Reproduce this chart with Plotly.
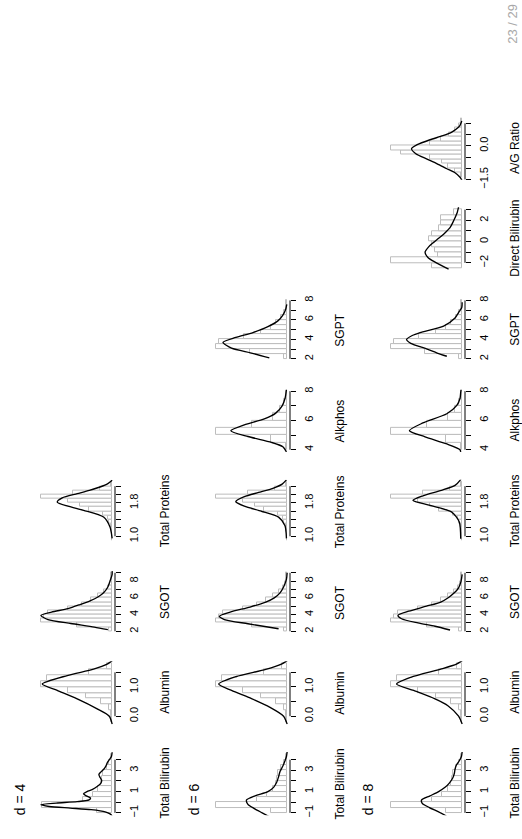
import plotly.graph_objects as go

FONT = "Liberation Sans"

variables = ["Total Bilirubin", "Albumin", "SGOT", "Total Proteins",
             "Alkphos", "SGPT", "Direct Bilirubin", "A/G Ratio"]
dims = [4, 6, 8]
page_label = "23 / 29"

# axis ticks and their printed labels (R drops overlapping labels)
ticks_tb = [-1, 0, 1, 2, 3, 4]
labels_tb = ["\u22121", "", "1", "", "3", ""]
ticks_alb = [0.0, 0.5, 1.0, 1.5]
labels_alb = ["0.0", "", "1.0", ""]
ticks_sgot = [2, 3, 4, 5, 6, 7, 8, 9]
labels_sgot = ["2", "", "4", "", "6", "", "8", ""]
ticks_tp = [1.0, 1.2, 1.4, 1.6, 1.8, 2.0, 2.2]
labels_tp = ["1.0", "", "", "", "1.8", "", ""]
ticks_alk = [4, 5, 6, 7, 8]
labels_alk = ["4", "", "6", "", "8"]
ticks_sgpt = [2, 3, 4, 5, 6, 7, 8]
labels_sgpt = ["2", "", "4", "", "6", "", "8"]
ticks_db = [-2, -1, 0, 1, 2, 3]
labels_db = ["\u22122", "", "0", "", "2", ""]
ticks_ag = [-1.5, -1.0, -0.5, 0.0, 0.5, 1.0]
labels_ag = ["\u22121.5", "", "", "0.0", "", ""]

# histograms: first break, bin width, densities (relative to tallest bar)
hist_start = [-1.0, -0.2, 2.0, 0.9, 4.0, 2.0, -2.5, -1.4]
hist_width = [0.5, 0.2, 0.5, 0.1, 0.5, 0.5, 0.5, 0.2]
hist_tb = [0.22, 1.0, 0.42, 0.28, 0.2, 0.16, 0.14, 0.13, 0.08, 0.04, 0.02]
hist_alb = [0.01, 0.02, 0.05, 0.16, 0.36, 0.62, 1.0, 0.92, 0.32, 0.07]
hist_sgot = [0.04, 0.5, 1.0, 0.95, 0.9, 0.62, 0.42, 0.3, 0.2, 0.12, 0.06, 0.03, 0.02, 0.01]
hist_tp = [0.003, 0.005, 0.01, 0.02, 0.05, 0.06, 0.13, 0.33, 0.45, 0.62, 1.0, 0.55, 0.17, 0.02]
hist_alk = [0.02, 0.22, 1.0, 0.5, 0.2, 0.1, 0.04, 0.015]
hist_sgpt = [0.05, 0.52, 1.0, 0.95, 0.6, 0.36, 0.22, 0.15, 0.08, 0.04, 0.02, 0.01]
hist_db = [0.42, 1.0, 0.34, 0.38, 0.42, 0.47, 0.42, 0.33, 0.3, 0.3, 0.12]
hist_ag = [0.02, 0.1, 0.2, 0.28, 0.45, 0.86, 1.0, 0.45, 0.3, 0.19, 0.1, 0.04, 0.01]

# fitted densities (value, height)
curve_tb_d4 = [(-1.3, 0.0), (-1.1, 0.03), (-0.9, 0.1), (-0.7, 0.3), (-0.55, 0.6), (-0.4, 0.9),
               (-0.22, 1.02), (-0.08, 0.8), (0.05, 0.5), (0.22, 0.33), (0.4, 0.31), (0.6, 0.37),
               (0.8, 0.41), (1.0, 0.36), (1.2, 0.28), (1.5, 0.21), (1.8, 0.16), (2.05, 0.15),
               (2.3, 0.17), (2.6, 0.19), (2.85, 0.16), (3.1, 0.12), (3.4, 0.09), (3.7, 0.07),
               (4.0, 0.04), (4.3, 0.01), (4.7, 0.0)]
curve_tb_d6 = [(-1.4, 0.24), (-1.0, 0.35), (-0.6, 0.46), (-0.2, 0.55), (0.2, 0.57), (0.6, 0.45),
               (1.0, 0.27), (1.4, 0.19), (1.9, 0.145), (2.4, 0.12), (2.9, 0.10), (3.4, 0.06),
               (3.9, 0.03), (4.3, 0.01), (4.75, 0.0)]
curve_tb_d8 = [(-1.3, 0.22), (-0.9, 0.33), (-0.5, 0.46), (-0.1, 0.56), (0.2, 0.57), (0.6, 0.45),
               (1.0, 0.33), (1.4, 0.24), (1.8, 0.18), (2.3, 0.13), (2.7, 0.11), (3.1, 0.10),
               (3.5, 0.08), (3.9, 0.04), (4.3, 0.01), (4.75, 0.0)]
curve_alb_d4 = [(-0.27, 0.0), (0.0, 0.04), (0.25, 0.21), (0.59, 0.49), (0.88, 0.77), (1.1, 0.98),
                (1.39, 0.63), (1.61, 0.26), (1.78, 0.07), (1.9, 0.0)]
curve_alb_d6 = [(-0.27, 0.0), (0.0, 0.05), (0.3, 0.24), (0.6, 0.5), (0.88, 0.78), (1.1, 0.96),
                (1.35, 0.72), (1.6, 0.3), (1.78, 0.08), (1.9, 0.0)]
curve_alb_d8 = [(-0.27, 0.0), (0.0, 0.05), (0.36, 0.2), (0.59, 0.38), (0.88, 0.68), (1.1, 0.92),
                (1.33, 0.72), (1.61, 0.3), (1.78, 0.08), (1.9, 0.0)]
curve_sgot_d4 = [(2.2, 0.06), (2.5, 0.25), (2.93, 0.58), (3.4, 0.9), (3.9, 1.0), (4.3, 0.85),
                 (4.7, 0.62), (5.2, 0.45), (5.65, 0.31), (6.1, 0.2), (6.6, 0.12), (7.3, 0.06),
                 (8.0, 0.03), (8.8, 0.0), (9.2, 0.0)]
curve_sgot_d6 = [(2.3, 0.12), (2.9, 0.55), (3.4, 0.88), (3.8, 0.95), (4.3, 0.8), (4.9, 0.52),
                 (5.5, 0.3), (6.0, 0.18), (6.6, 0.1), (7.3, 0.05), (8.2, 0.01), (9.0, 0.0)]
curve_sgot_d8 = [(2.15, 0.17), (2.6, 0.38), (3.0, 0.62), (3.5, 0.85), (3.9, 0.9), (4.4, 0.75),
                 (5.0, 0.5), (5.5, 0.3), (6.05, 0.19), (6.6, 0.11), (7.2, 0.05), (8.0, 0.015),
                 (8.8, 0.0)]
curve_tp_d4 = [(0.95, 0.0), (1.22, 0.03), (1.46, 0.12), (1.62, 0.4), (1.72, 0.62), (1.82, 0.77),
               (1.92, 0.7), (2.02, 0.49), (2.1, 0.32), (2.18, 0.17), (2.26, 0.06), (2.34, 0.0)]
curve_tp_d6 = [(0.95, 0.01), (1.25, 0.03), (1.46, 0.12), (1.6, 0.36), (1.72, 0.6), (1.83, 0.72),
               (1.95, 0.6), (2.05, 0.4), (2.15, 0.2), (2.25, 0.07), (2.35, 0.01)]
curve_tp_d8 = [(0.94, 0.02), (1.34, 0.04), (1.58, 0.145), (1.74, 0.45), (1.86, 0.69), (1.97, 0.55),
               (2.1, 0.29), (2.22, 0.1), (2.34, 0.03), (2.4, 0.01)]
curve_alk_d6 = [(3.85, 0.01), (4.2, 0.06), (4.5, 0.22), (4.9, 0.55), (5.3, 0.79), (5.7, 0.6),
                (6.1, 0.32), (6.5, 0.16), (7.0, 0.07), (7.5, 0.03), (8.1, 0.01)]
curve_alk_d8 = [(3.85, 0.02), (4.0, 0.03), (4.39, 0.215), (4.88, 0.52), (5.3, 0.74), (5.83, 0.55),
                (6.46, 0.215), (7.03, 0.075), (7.5, 0.03), (7.93, 0.02), (8.1, 0.015)]
curve_sgpt_d6 = [(2.1, 0.25), (2.6, 0.5), (3.1, 0.78), (3.7, 0.9), (4.2, 0.72), (4.7, 0.48),
                 (5.3, 0.27), (5.9, 0.13), (6.5, 0.06), (7.1, 0.02), (7.6, 0.005)]
curve_sgpt_d8 = [(2.27, 0.215), (2.6, 0.35), (3.03, 0.5), (3.6, 0.72), (4.0, 0.78), (4.4, 0.7),
                 (4.7, 0.59), (5.37, 0.26), (6.2, 0.1), (6.87, 0.04), (7.27, 0.005), (7.8, 0.0)]
curve_db_d8 = [(-2.6, 0.19), (-1.94, 0.38), (-1.5, 0.48), (-1.0, 0.52), (-0.5, 0.47), (-0.08, 0.40),
               (0.3, 0.33), (0.69, 0.26), (1.3, 0.17), (1.8, 0.13), (2.23, 0.1), (2.7, 0.07),
               (3.25, 0.05)]
curve_ag_d8 = [(-1.55, 0.0), (-1.4, 0.03), (-1.2, 0.1), (-1.02, 0.215), (-0.8, 0.35), (-0.58, 0.5),
               (-0.35, 0.65), (-0.13, 0.71), (0.05, 0.63), (0.27, 0.45), (0.45, 0.27), (0.61, 0.145),
               (0.8, 0.06), (0.91, 0.03), (1.1, 0.005)]

# ---- assemble tables ----
ticks = [ticks_tb, ticks_alb, ticks_sgot, ticks_tp, ticks_alk, ticks_sgpt, ticks_db, ticks_ag]
tick_labels = [labels_tb, labels_alb, labels_sgot, labels_tp, labels_alk, labels_sgpt, labels_db, labels_ag]
hists = [hist_tb, hist_alb, hist_sgot, hist_tp, hist_alk, hist_sgpt, hist_db, hist_ag]
curves = {
    4: [curve_tb_d4, curve_alb_d4, curve_sgot_d4, curve_tp_d4],
    6: [curve_tb_d6, curve_alb_d6, curve_sgot_d6, curve_tp_d6, curve_alk_d6, curve_sgpt_d6],
    8: [curve_tb_d8, curve_alb_d8, curve_sgot_d8, curve_tp_d8, curve_alk_d8, curve_sgpt_d8,
        curve_db_d8, curve_ag_d8],
}

# ---- layout geometry (page is rotated: rows of the slide run left->right) ----
FW, FH = 522, 839
AXIS_X0, COL_STEP, PLOT_W = 115, 175, 77
ROW_C0, ROW_STEP, PANEL_H = 792, 92, 64
TITLE_X0, TITLE_STEP, TITLE_BOTTOM = 20, 174, 825
LABEL_OFF = 50

fig = go.Figure()
layout_axes = {}
annotations = []
shapes = []
n = 0
for k, d in enumerate(dims):
    axis_px = AXIS_X0 + COL_STEP * k
    left_px = axis_px - PLOT_W
    annotations.append(dict(
        text=f"d = {d}", x=(TITLE_X0 + TITLE_STEP * k) / FW, y=(FH - TITLE_BOTTOM) / FH,
        xref="paper", yref="paper", xanchor="center", yanchor="bottom", showarrow=False,
        textangle=-90, borderpad=0, font=dict(family=FONT, size=14, color="black")))
    for i in range(d):
        n += 1
        sfx = "" if n == 1 else str(n)
        start, width, dens = hist_start[i], hist_width[i], hists[i]
        b_lo, b_hi = start, start + width * len(dens)
        pad = 0.04 * (b_hi - b_lo)
        yr = [b_lo - pad, b_hi + pad]
        cv = [p[0] for p in curves[d][i]]
        ch = [p[1] for p in curves[d][i]]
        top = max(max(dens), max(ch))
        xr = [1.04 * top, -0.04 * top]
        centers = [start + width * (j + 0.5) for j in range(len(dens))]

        fig.add_trace(go.Bar(
            x=dens, y=centers, width=[width] * len(dens), orientation="h",
            marker=dict(color="white", line=dict(color="#bdbdbd", width=1)),
            xaxis="x" + sfx, yaxis="y" + sfx, showlegend=False, hoverinfo="skip"))
        fig.add_trace(go.Scatter(
            x=ch, y=cv, mode="lines", line=dict(color="black", width=1.35, shape="spline", smoothing=0.7),
            xaxis="x" + sfx, yaxis="y" + sfx, showlegend=False, hoverinfo="skip"))

        c_px = ROW_C0 - ROW_STEP * i
        layout_axes["xaxis" + sfx] = dict(
            domain=[left_px / FW, axis_px / FW], range=xr, anchor="y" + sfx,
            visible=False, showgrid=False, zeroline=False, fixedrange=True)
        layout_axes["yaxis" + sfx] = dict(
            domain=[(FH - (c_px + PANEL_H / 2)) / FH, (FH - (c_px - PANEL_H / 2)) / FH],
            range=yr, anchor="x" + sfx, side="right",
            tickmode="array", tickvals=ticks[i], ticktext=tick_labels[i], tickangle=-90,
            ticks="outside", ticklen=5, tickwidth=1, tickcolor="black",
            ticklabelstandoff=4,
            tickfont=dict(family=FONT, size=11, color="black"),
            showgrid=False, zeroline=False, showline=False, fixedrange=True)
        shapes.append(dict(
            type="line", xref=("x" + sfx + " domain"), yref="y" + sfx,
            x0=1, x1=1, y0=ticks[i][0], y1=ticks[i][-1],
            line=dict(color="black", width=1)))
        annotations.append(dict(
            text=variables[i], x=(axis_px + LABEL_OFF) / FW, y=(FH - c_px) / FH,
            xref="paper", yref="paper", xanchor="center", yanchor="middle", showarrow=False,
            textangle=-90, borderpad=0, font=dict(family=FONT, size=12, color="black")))

annotations.append(dict(
    text=page_label, x=513 / FW, y=(FH - 22) / FH, xref="paper", yref="paper",
    xanchor="center", yanchor="middle", showarrow=False, textangle=-90, borderpad=0,
    font=dict(family=FONT, size=13, color="#a8a8a8")))

fig.update_layout(
    width=FW, height=FH, margin=dict(l=0, r=0, t=0, b=0),
    paper_bgcolor="white", plot_bgcolor="white",
    annotations=annotations, shapes=shapes, showlegend=False, bargap=0,
    **layout_axes)

# remove the browser's default page margin so the figure sits at the window's corner
fig.write_html("out.html", config={"displayModeBar": False},
               post_script="document.body.style.margin='0';")
